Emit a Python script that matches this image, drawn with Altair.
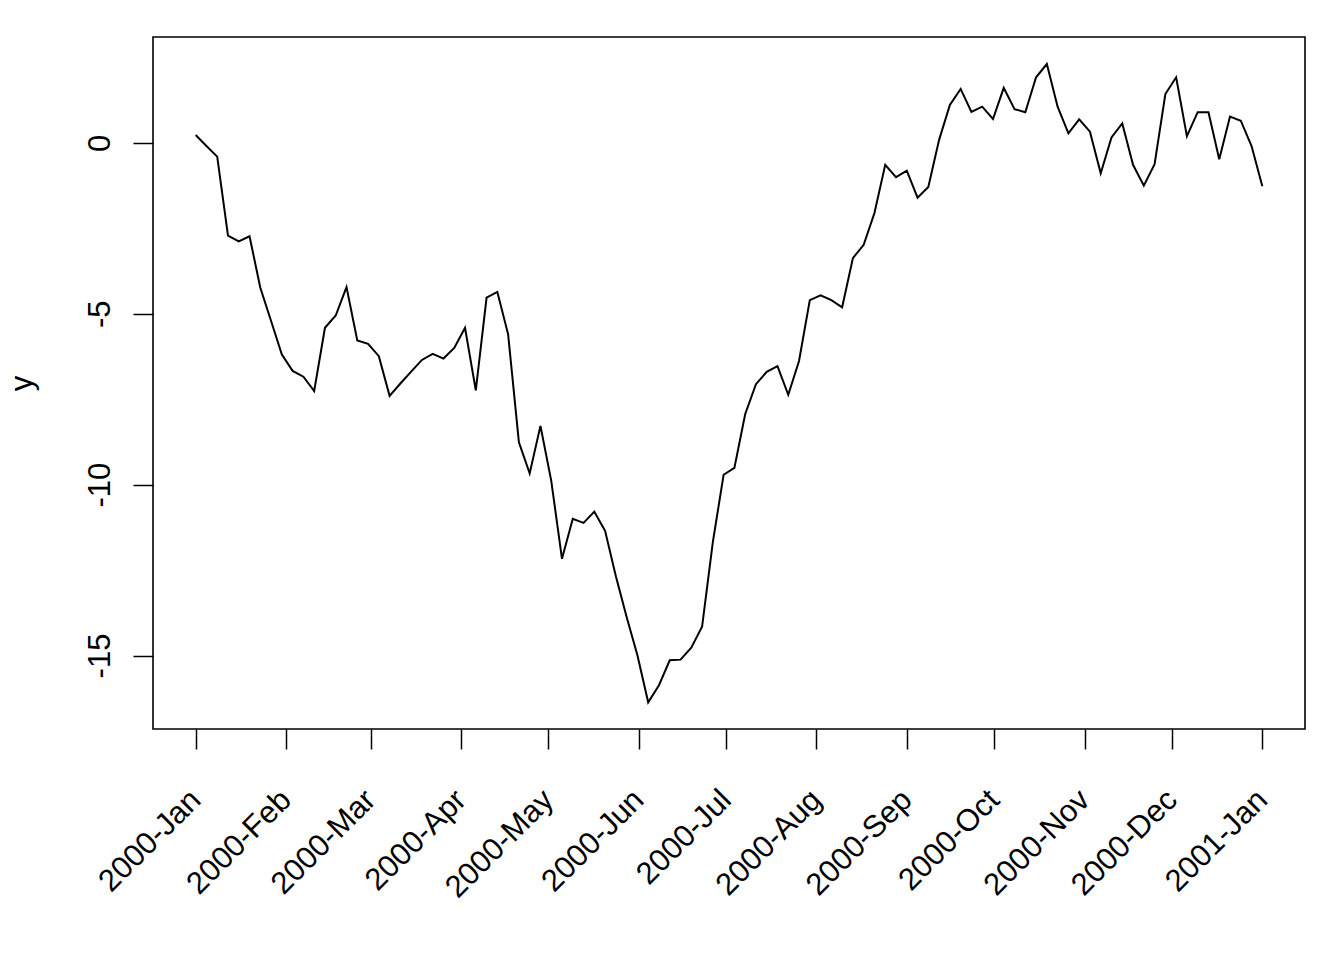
import altair as alt
import pandas as pd

# Values (100 evenly spaced dates, 2000-01-01 .. 2001-01-01)
y_values = [
    0.23, -0.09, -0.40, -2.71, -2.88, -2.73, -4.24, -5.21, -6.19, -6.67,
    -6.84, -7.26, -5.41, -5.05, -4.22, -5.78, -5.88, -6.24, -7.40, -7.04,
    -6.69, -6.35, -6.17, -6.31, -6.00, -5.41, -7.24, -4.53, -4.36, -5.60,
    -8.76, -9.67, -8.28, -9.88, -12.17, -11.00, -11.12, -10.79, -11.35, -12.68,
    -13.87, -14.99, -16.37, -15.87, -15.14, -15.12, -14.77, -14.16, -11.68, -9.71,
    -9.51, -7.94, -7.06, -6.70, -6.53, -7.37, -6.38, -4.60, -4.46, -4.60,
    -4.81, -3.37, -2.98, -2.05, -0.64, -1.00, -0.81, -1.60, -1.29, 0.09,
    1.11, 1.58, 0.91, 1.06, 0.70, 1.61, 0.99, 0.90, 1.92, 2.31,
    1.06, 0.28, 0.69, 0.33, -0.89, 0.16, 0.57, -0.64, -1.25, -0.62,
    1.43, 1.92, 0.20, 0.90, 0.90, -0.48, 0.77, 0.65, -0.09, -1.27,
]
start_date = "2000-01-01"
end_date = "2001-01-01"
dates = pd.date_range(start=start_date, end=end_date, periods=len(y_values))
date_strings = [d.strftime("%Y-%m-%dT%H:%M:%SZ") for d in dates]

tick_months = [(2000, m) for m in range(1, 13)] + [(2001, 1)]
y_ticks = [0, -5, -10, -15]

df = pd.DataFrame({"date": date_strings, "y": y_values})

FONT = "Liberation Sans"
FS = 31

x_axis = alt.Axis(
    values=[alt.DateTime(year=yy, month=mm, date=1, utc=True) for yy, mm in tick_months],
    labelExpr="utcFormat(datum.value, '%Y-%b')",
    labelAngle=-45,
    labelAlign="right",
    labelBaseline="middle",
    labelPadding=46,
    labelFont=FONT,
    labelFontSize=FS,
    labelColor="black",
    tickSize=20,
    tickColor="black",
    tickWidth=1.5,
    domain=False,
    grid=False,
    title=None,
    labelOverlap=False,
    labelBound=False,
    labelFlush=False,
)

y_axis = alt.Axis(
    values=y_ticks,
    labelExpr="datum.value + ''",
    labelAngle=-90,
    labelAlign="center",
    labelBaseline="alphabetic",
    labelPadding=24,
    labelFont=FONT,
    labelFontSize=FS,
    labelColor="black",
    tickSize=20,
    tickColor="black",
    tickWidth=1.5,
    domain=False,
    grid=False,
    title="y",
    titleFont=FONT,
    titleFontSize=FS,
    titleFontWeight="normal",
    titleColor="black",
    titleAngle=-90,
    titleAlign="center",
    titleBaseline="alphabetic",
    titleX=-122,
    labelOverlap=False,
    labelFlush=False,
)

chart = (
    alt.Chart(df)
    .mark_line(color="black", strokeWidth=2)
    .encode(
        x=alt.X(
            "date:T",
            scale=alt.Scale(
                type="utc",
                domain=[
                    alt.DateTime(year=1999, month=12, date=17, hours=8, minutes=38, seconds=24, utc=True),
                    alt.DateTime(year=2001, month=1, date=15, hours=15, minutes=21, seconds=36, utc=True),
                ],
                nice=False,
            ),
            axis=x_axis,
        ),
        y=alt.Y(
            "y:Q",
            scale=alt.Scale(domain=[-17.15, 3.1], nice=False, zero=False),
            axis=y_axis,
        ),
    )
    .properties(
        width=1152,
        height=692,
        autosize=alt.AutoSizeParams(type="none"),
        padding={"left": 145, "top": 29, "right": 31, "bottom": 223},
        background="white",
    )
    .configure_view(stroke="black", strokeWidth=1.6, fill="white")
)

chart.save("out.html", embed_options={"renderer": "svg", "actions": False})
